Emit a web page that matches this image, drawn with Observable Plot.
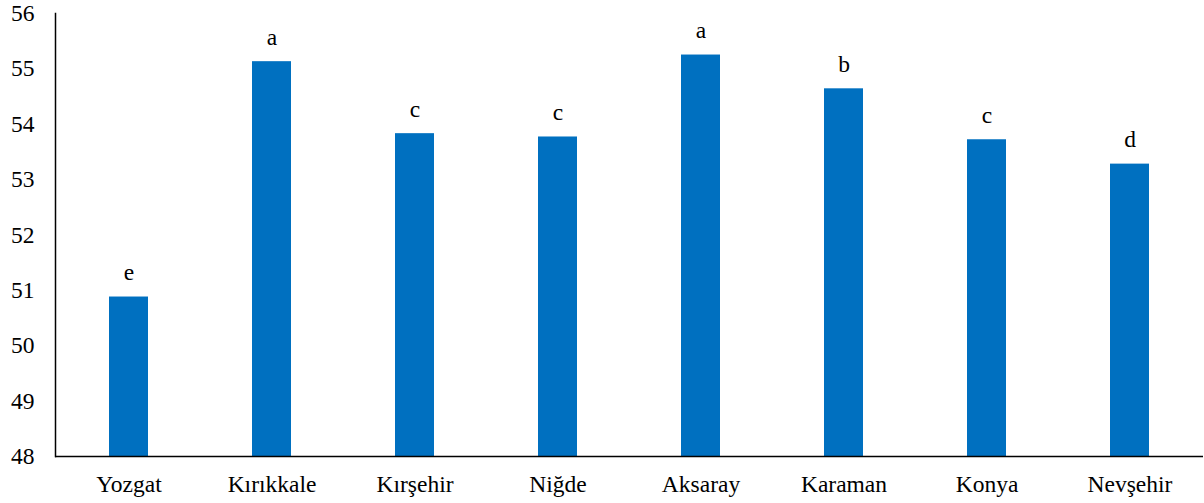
<!DOCTYPE html>
<html>
<head>
<meta charset="utf-8">
<script src="https://cdn.jsdelivr.net/npm/d3@7"></script>
<script src="https://cdn.jsdelivr.net/npm/@observablehq/plot@0.6"></script>
<style>
  html, body { margin: 0; padding: 0; background: #fff; }
  #chart svg { display: block; }
</style>
</head>
<body>
<div id="chart"></div>
<script>
// Provinces along the x axis
const provinces = ["Yozgat", "Kırıkkale", "Kırşehir", "Niğde", "Aksaray", "Karaman", "Konya", "Nevşehir"];
// Mean value per province
const values = [50.88, 55.13, 53.83, 53.77, 55.25, 54.64, 53.72, 53.28];
// Significance group letters shown above each bar
const groups = ["e", "a", "c", "c", "a", "b", "c", "d"];
// Y axis ticks
const yTicks = [48, 49, 50, 51, 52, 53, 54, 55, 56];

const data = provinces.map((p, i) => ({ province: p, value: values[i], group: groups[i] }));

const font = "Liberation Serif, serif";
const size = 23.5;

const chart = Plot.plot({
  width: 1204,
  height: 503,
  marginLeft: 55,
  marginRight: 1,
  marginTop: 13,
  marginBottom: 47,
  style: { fontFamily: font, fontSize: size + "px", color: "#000", background: "#fff" },
  x: { domain: provinces, paddingInner: 0.728, paddingOuter: 0.364, label: null },
  y: { domain: [48, 56], ticks: yTicks, label: null },
  marks: [
    Plot.barY(data, { x: "province", y1: 48, y2: "value", fill: "#0070C0" }),
    Plot.text(data, {
      x: "province", y: "value", text: "group",
      lineAnchor: "bottom", dy: -17, fontSize: size, fontFamily: font, fill: "#000"
    }),
    Plot.axisY({ ticks: yTicks, tickSize: 0, tickPadding: 21, fontSize: size, fontFamily: font, fill: "#000", label: null }),
    Plot.axisX({ tickSize: 0, tickPadding: 19, fontSize: size, fontFamily: font, fill: "#000", label: null }),
    Plot.ruleY([48], { stroke: "#000", strokeWidth: 1.5 }),
    Plot.frame({ anchor: "left", stroke: "#000", strokeWidth: 1.5 })
  ]
});

document.getElementById("chart").append(chart);
</script>
</body>
</html>
